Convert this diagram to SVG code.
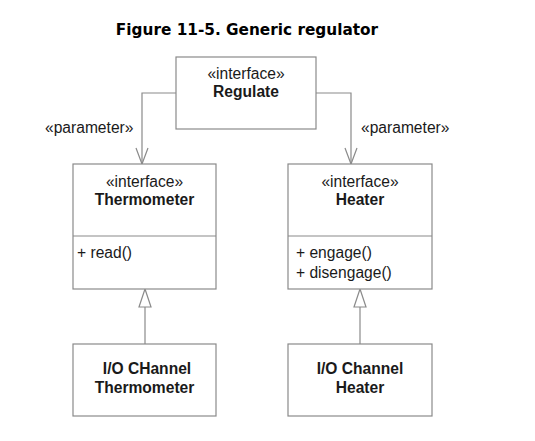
<svg xmlns="http://www.w3.org/2000/svg" width="535" height="441" viewBox="0 0 535 441">
<style>
.box{fill:#fff;stroke:#8a8a8a;stroke-width:1.2}
.ln{fill:none;stroke:#8a8a8a;stroke-width:1.2}
.t{font-family:"Liberation Sans",Arial,sans-serif;font-size:15.6px;fill:#1a1a1a}
.b{font-weight:bold}
.c{text-anchor:middle}
.title{font-family:"DejaVu Sans",Verdana,sans-serif;font-weight:bold;font-size:15.3px;fill:#000;text-anchor:middle}
</style>
<rect width="535" height="441" fill="#fff"/>
<text class="title" x="247" y="35">Figure 11-5. Generic regulator</text>
<g id="connectors">
<polyline class="ln" points="176,93 142,93 142,164"/>
<polyline class="ln" points="136,148 142,164 148,148"/>
<polyline class="ln" points="316,93 351,93 351,164"/>
<polyline class="ln" points="345,148 351,164 357,148"/>
<line class="ln" x1="145" y1="307" x2="145" y2="344"/>
<polygon class="ln" points="145,289 139,307 151,307"/>
<line class="ln" x1="360" y1="307" x2="360" y2="344"/>
<polygon class="ln" points="360,289 354,307 366,307"/>
<text class="t" x="45" y="133">«parameter»</text>
<text class="t" x="361" y="133">«parameter»</text>
</g>
<g id="regulate">
<rect class="box" x="176" y="57" width="140" height="72"/>
<text class="t c" x="246" y="79">«interface»</text>
<text class="t b c" x="246" y="97">Regulate</text>
</g>
<g id="thermometer">
<rect class="box" x="73" y="164" width="143" height="125"/>
<line class="ln" x1="73" y1="236" x2="216" y2="236"/>
<text class="t c" x="144.5" y="187">«interface»</text>
<text class="t b c" x="144.5" y="205">Thermometer</text>
<text class="t" x="77" y="258">+ read()</text>
</g>
<g id="heater">
<rect class="box" x="288" y="164" width="144" height="125"/>
<line class="ln" x1="288" y1="236" x2="432" y2="236"/>
<text class="t c" x="360" y="187">«interface»</text>
<text class="t b c" x="360" y="205">Heater</text>
<text class="t" x="296" y="258">+ engage()</text>
<text class="t" x="296" y="278">+ disengage()</text>
</g>
<g id="io-thermometer">
<rect class="box" x="73" y="344" width="143" height="72"/>
<text class="t b c" x="147" y="374">I/O CHannel</text>
<text class="t b c" x="144.5" y="393">Thermometer</text>
</g>
<g id="io-heater">
<rect class="box" x="288" y="344" width="144" height="72"/>
<text class="t b c" x="360" y="374">I/O Channel</text>
<text class="t b c" x="360" y="393">Heater</text>
</g>
</svg>
